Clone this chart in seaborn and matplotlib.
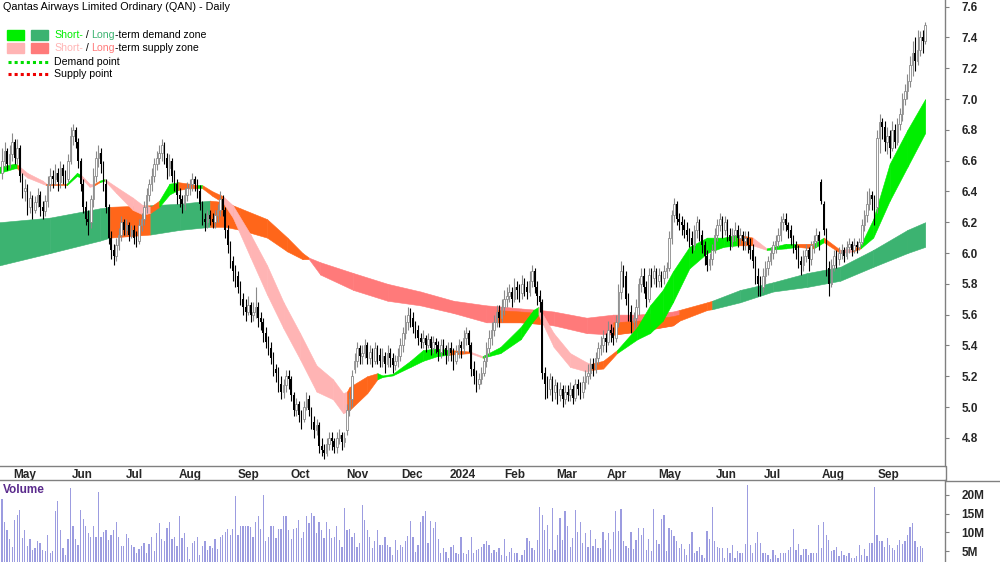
import numpy as np
import pandas as pd
import matplotlib
matplotlib.use("Agg")
import matplotlib.pyplot as plt
import seaborn as sns
from matplotlib.transforms import IdentityTransform, ScaledTranslation
from matplotlib.patches import Rectangle
from matplotlib.lines import Line2D

# daily prices in cents (Apr 2023 - Sep 2024)
closes = [660, 666, 658, 664, 672, 662, 668, 650, 640, 642,
          630, 636, 628, 633, 638, 630, 627, 634,
          645, 650, 648, 652, 646, 655, 650, 648,
          660, 676, 680, 672,
          660, 645, 630, 622, 620,
          635, 650, 662, 665, 658,
          645, 630, 610, 602, 598, 605,
          612, 620, 615, 618, 612, 615, 610, 608, 618, 622,
          630, 638, 645, 650, 658, 662, 665, 670, 662,
          655, 660, 650, 645, 638, 635,
          632, 638, 642, 645, 648, 645,
          640, 632, 622, 620, 625, 622,
          620, 625, 628, 635, 628, 615,
          605, 595, 588, 585,
          578, 570, 565, 562, 566, 560,
          562, 565, 558, 555, 548,
          542, 538, 532, 525, 522,
          515, 510, 514, 520, 518, 508,
          498, 502, 495, 492, 500, 505, 498, 490, 485, 488,
          475, 472, 470, 476, 480, 478, 474, 480, 482, 477, 480,
          498, 505, 520,
          530, 538, 533, 535, 540, 532, 536, 530, 538, 534,
          530, 533, 528, 535, 532, 527, 530, 533, 540,
          548, 555, 560, 558, 552, 550, 545,
          542, 545, 540, 544, 538, 542, 540, 536, 540, 538, 534, 538,
          535, 530, 536, 540, 538, 545, 548, 540,
          525, 520, 515, 518, 522, 530,
          538, 545, 550, 555, 562, 558, 565, 570,
          572, 575, 570, 578, 576, 574, 580, 578, 575, 582, 588,
          578, 572, 568,
          522,
          515, 512, 518, 510, 514, 508, 512,
          505, 510, 508, 512, 506, 515, 512, 510, 516,
          520, 522, 528, 525, 532, 538,
          540, 545, 542, 550, 548, 545, 555,
          575, 588, 585,
          570, 562, 555, 558,
          565, 580, 585, 578, 570,
          586, 584, 588, 582, 586, 584, 588, 590,
          610, 625, 632, 622,
          620, 618, 615, 612, 610, 605,
          615, 620, 612, 605,
          598, 592, 596, 602,
          612, 618, 622, 615, 620, 612,
          608, 612, 615, 610, 612, 608,
          610, 605, 602, 595, 585, 580,
          578, 585, 590, 595, 600, 605,
          608, 612, 620, 622, 618, 615, 610,
          605, 602, 595, 592, 598, 602, 596,
          605, 608, 612, 608,
          634, 615,
          590, 580, 592, 598, 596,
          600, 602, 598, 604, 606, 602, 605, 604, 607,
          618, 625, 632, 638, 635, 630,
          675,
          685, 682, 672, 676, 668, 680, 672, 684, 690,
          700, 705, 712,
          722, 730, 725, 732,
          740, 738, 748]

opens = [652, 660, 666, 658, 664, 672, 662, 668, 650, 640,
         642, 630, 636, 628, 633, 638, 630, 627,
         634, 645, 650, 648, 652, 646, 655, 650,
         648, 660, 676, 680,
         672, 660, 645, 630, 622,
         620, 635, 650, 662, 665,
         658, 645, 630, 610, 602, 598,
         605, 612, 620, 615, 618, 612, 615, 610, 608, 618,
         622, 630, 638, 645, 650, 658, 662, 665, 670,
         662, 655, 660, 650, 645, 638,
         635, 632, 638, 642, 645, 648,
         645, 640, 632, 622, 620, 625,
         622, 620, 625, 628, 635, 628,
         615, 605, 595, 588,
         585, 578, 570, 565, 562, 566,
         560, 562, 565, 558, 555,
         548, 542, 538, 532, 525,
         522, 515, 510, 514, 520, 518,
         508, 498, 502, 495, 492, 500, 505, 498, 490, 485,
         488, 475, 472, 470, 476, 480, 478, 474, 480, 482, 477,
         485, 498, 505,
         525, 530, 538, 533, 535, 540, 532, 536, 530, 538,
         534, 530, 533, 528, 535, 532, 527, 530, 533,
         540, 548, 555, 560, 558, 552, 550,
         545, 542, 545, 540, 544, 538, 542, 540, 536, 540, 538, 534,
         538, 535, 530, 536, 540, 538, 545, 548,
         540, 525, 520, 515, 518, 522,
         530, 538, 545, 550, 555, 562, 558, 565,
         570, 572, 575, 570, 578, 576, 574, 580, 578, 575, 582,
         588, 578, 572,
         568,
         522, 515, 512, 518, 510, 514, 508,
         512, 505, 510, 508, 512, 506, 515, 512, 510,
         516, 520, 522, 528, 525, 532,
         538, 540, 545, 542, 550, 548, 545,
         555, 575, 588,
         585, 570, 562, 555,
         558, 565, 580, 585, 578,
         570, 586, 584, 588, 582, 586, 584, 588,
         590, 610, 625, 632,
         622, 620, 618, 615, 612, 610,
         605, 615, 620, 612,
         605, 598, 592, 596,
         602, 612, 618, 622, 615, 620,
         612, 608, 612, 615, 610, 612,
         608, 610, 605, 602, 595, 585,
         580, 578, 585, 590, 595, 600,
         605, 608, 612, 620, 622, 618, 615,
         610, 605, 602, 595, 592, 598, 602,
         596, 605, 608, 612,
         646, 632,
         615, 590, 580, 592, 598,
         596, 600, 602, 598, 604, 606, 602, 605, 604,
         607, 618, 625, 632, 638, 635,
         630,
         675, 685, 682, 672, 676, 668, 680, 672, 684,
         690, 700, 705,
         712, 722, 730, 725,
         732, 740, 738]

highs = [668, 672, 668, 670, 678, 674, 674, 670, 652, 648,
         645, 640, 638, 637, 642, 640, 634, 638,
         650, 655, 654, 658, 655, 660, 658, 654,
         664, 682, 684, 682,
         675, 662, 648, 634, 628,
         638, 655, 666, 670, 668,
         660, 648, 632, 614, 606, 610,
         616, 624, 622, 622, 620, 618, 618, 614, 622, 626,
         634, 642, 648, 655, 662, 666, 670, 674, 672,
         665, 664, 662, 654, 648, 642,
         638, 642, 646, 648, 652, 650,
         648, 644, 634, 626, 628, 628,
         626, 628, 632, 640, 638, 630,
         618, 608, 598, 592,
         588, 582, 574, 570, 572, 568,
         568, 578, 568, 562, 558,
         552, 546, 542, 536, 528,
         526, 520, 518, 524, 524, 520,
         510, 506, 504, 498, 504, 510, 508, 500, 494, 492,
         490, 480, 476, 480, 484, 484, 480, 484, 486, 484, 484,
         502, 510, 524,
         535, 542, 540, 540, 544, 542, 540, 538, 542, 540,
         538, 538, 536, 540, 538, 535, 534, 538, 545,
         552, 560, 565, 564, 562, 556, 553,
         548, 550, 547, 548, 546, 546, 545, 543, 544, 544, 540, 542,
         542, 538, 540, 544, 543, 550, 552, 550,
         542, 530, 524, 522, 526, 534,
         542, 550, 555, 560, 566, 566, 570, 576,
         578, 580, 578, 584, 582, 580, 586, 584, 582, 588, 592,
         590, 582, 576,
         570,
         526, 520, 522, 520, 518, 516, 516,
         514, 514, 514, 516, 514, 518, 518, 516, 520,
         524, 528, 532, 532, 536, 542,
         546, 550, 548, 556, 554, 552, 560,
         580, 595, 592,
         588, 574, 566, 562,
         570, 584, 590, 590, 582,
         590, 590, 592, 590, 590, 588, 592, 594,
         614, 628, 636, 634,
         626, 624, 622, 620, 616, 614,
         618, 624, 622, 615,
         608, 602, 600, 606,
         616, 622, 626, 624, 624, 622,
         616, 616, 620, 618, 616, 614,
         614, 614, 610, 606, 598, 590,
         585, 590, 595, 598, 604, 608,
         612, 616, 624, 626, 626, 620, 618,
         612, 608, 605, 598, 602, 606, 604,
         608, 612, 616, 614,
         648, 634,
         616, 595, 596, 602, 602,
         604, 606, 604, 608, 610, 608, 610, 608, 610,
         622, 628, 640, 642, 640, 638,
         680,
         690, 688, 686, 682, 680, 686, 684, 688, 694,
         704, 710, 716,
         728, 738, 740, 745,
         744, 745, 750]

lows = [648, 656, 654, 655, 660, 658, 658, 646, 636, 634,
        625, 626, 622, 626, 630, 624, 622, 624,
        630, 640, 642, 644, 640, 642, 645, 642,
        646, 658, 670, 668,
        655, 640, 626, 618, 612,
        616, 630, 646, 656, 652,
        640, 626, 606, 596, 592, 595,
        602, 608, 612, 612, 608, 610, 606, 604, 606, 614,
        618, 626, 634, 640, 646, 654, 658, 660, 658,
        648, 650, 646, 640, 632, 630,
        626, 628, 634, 638, 640, 640,
        636, 628, 618, 614, 616, 618,
        616, 616, 620, 624, 624, 610,
        600, 590, 582, 578,
        574, 566, 560, 556, 560, 555,
        556, 558, 552, 550, 542,
        538, 534, 528, 520, 516,
        510, 505, 506, 510, 512, 504,
        494, 494, 490, 486, 490, 498, 494, 486, 480, 482,
        470, 468, 466, 468, 472, 472, 470, 470, 476, 472, 474,
        482, 494, 500,
        522, 526, 528, 528, 532, 528, 528, 526, 528, 528,
        526, 526, 522, 526, 526, 522, 524, 526, 530,
        536, 544, 550, 552, 548, 545, 540,
        538, 538, 536, 538, 534, 535, 535, 530, 532, 534, 528, 530,
        530, 524, 528, 532, 532, 535, 540, 536,
        520, 515, 510, 512, 515, 520,
        526, 534, 540, 546, 552, 552, 555, 560,
        565, 568, 565, 568, 570, 568, 570, 572, 570, 572, 578,
        574, 566, 562,
        518,
        505, 506, 508, 504, 505, 502, 504,
        500, 502, 504, 504, 502, 504, 508, 505, 506,
        512, 515, 518, 520, 522, 528,
        534, 536, 536, 540, 542, 540, 542,
        552, 570, 578,
        566, 556, 548, 550,
        552, 560, 575, 574, 565,
        568, 578, 580, 578, 578, 578, 580, 584,
        588, 606, 620, 618,
        615, 612, 610, 608, 604, 600,
        602, 610, 608, 600,
        592, 588, 589, 592,
        600, 608, 614, 610, 612, 608,
        602, 604, 608, 604, 606, 602,
        602, 600, 596, 590, 580, 572,
        572, 575, 580, 586, 592, 596,
        600, 604, 608, 615, 614, 610, 605,
        600, 596, 590, 586, 588, 594, 588,
        592, 600, 604, 602,
        632, 612,
        585, 572, 578, 588, 590,
        592, 596, 594, 596, 600, 598, 600, 600, 602,
        605, 614, 620, 628, 628, 618,
        626,
        665, 674, 666, 664, 662, 666, 668, 670, 680,
        686, 696, 700,
        708, 715, 718, 722,
        728, 730, 736]

# daily volume in millions
vol_a = [18.9, 12.9, 10.7, 8.2, 6.1, 13.4, 14.7, 15.9, 8.5, 10.7,
         6.4, 8.2, 5.4, 5.8, 7.6, 7.1, 5.4, 5.0, 9.4, 4.6,
         5.0, 15.8, 18.3, 10.7, 5.8, 4.0, 8.2, 21.8, 11.8, 8.2,
         6.7, 16.0, 13.5, 11.6, 9.8, 8.9, 11.6, 8.9, 20.7, 8.9,
         10.0, 10.7, 8.0, 9.4, 10.7, 12.9, 8.9, 6.4, 6.4, 9.5,
         8.6, 6.7, 6.2, 4.5, 5.5, 6.4, 7.1, 4.5, 6.9, 8.9,
         5.0, 9.8, 12.5, 8.2, 7.6, 11.1, 12.9, 8.2, 8.9, 6.4,
         14.3, 8.5, 9.8, 6.1, 2.8, 7.1, 7.6, 8.9, 4.0, 6.4,
         7.6, 5.4, 6.4, 5.8, 8.2, 5.5, 8.9, 9.4, 10.0, 10.9,
         9.4, 10.9, 19.8, 9.4, 11.8, 11.8, 11.6, 11.8, 11.4, 8.9,
         12.7, 14.3, 10.9, 20.1, 7.6, 8.9, 11.8, 11.8, 8.5, 10.9,
         10.9, 14.4, 14.4, 10.7, 8.2, 10.9, 11.1, 13.4, 8.5, 10.0,
         14.3, 12.5, 15.2, 14.4, 9.8, 12.7, 10.7, 8.5, 12.9, 10.9,
         8.5, 8.7, 11.6, 8.0, 6.1, 16.5, 10.7, 10.9, 8.9, 9.8,
         6.2, 7.1, 17.4, 13.4, 10.7, 8.9, 5.8, 7.6, 10.7, 6.7,
         6.7, 8.9, 6.7, 6.2, 4.0, 8.0, 5.4]
vol_b = [6.7, 6.1, 7.6, 9.1, 13.1, 8.9, 4.9, 6.7, 12.9, 14.3, 15.6,
         7.1, 13.1, 11.1, 12.9, 8.3, 4.6, 5.8, 4.9, 3.1, 6.1, 6.7,
         4.5, 4.3, 8.7, 4.5, 4.3, 5.3, 8.9, 4.6, 5.3, 5.5, 6.1,
         7.0, 7.8, 6.7, 4.5, 5.2, 4.9, 5.8, 4.0, 8.3, 3.6, 4.9,
         5.8, 4.6, 4.5, 2.7, 3.9, 5.3, 8.6, 7.6, 5.8, 5.3, 8.0,
         16.9, 14.7, 10.7, 12.0, 5.7, 16.5, 5.3, 9.4, 13.8, 8.0, 15.8,
         11.6, 6.0, 8.4, 16.0, 10.0, 12.9, 7.3, 9.8, 6.0, 10.7, 6.4,
         8.3, 5.8]
vol_c = [5.8, 10.0, 8.0, 9.8, 5.5, 10.0, 15.8, 10.5, 16.3, 7.6,
         6.4, 5.8, 10.1, 5.5, 8.0, 11.1, 9.4, 11.1, 5.4, 8.2,
         5.0, 16.3, 8.0, 6.9, 13.5, 14.7, 5.0, 11.1, 10.7, 9.1,
         7.6, 5.8, 6.9, 5.5, 4.0, 6.9, 10.0, 4.5, 5.0, 6.2,
         4.0, 3.1, 10.3, 8.2, 16.9, 7.6, 6.2, 5.8, 5.8, 3.1,
         5.8, 4.6, 6.7, 3.1, 5.0, 4.4, 4.5, 6.9, 22.7, 6.7,
         4.5, 7.3, 10.0, 7.1, 4.4, 4.4, 4.0, 2.8, 5.4, 4.0,
         3.1, 4.4, 4.4, 4.5, 5.4, 6.2, 10.9, 5.4, 6.9, 4.0,
         5.5, 5.5, 4.0, 4.5, 4.6, 4.5, 12.0, 5.8, 12.7, 9.4,
         8.0, 5.0, 5.4, 6.2, 3.6, 5.0, 4.0, 3.6, 4.6, 3.1,
         3.1, 3.6, 6.7, 4.0, 5.5, 3.6, 7.3, 7.3, 22.1, 9.4,
         7.6, 7.6, 6.2, 8.5, 6.7, 5.8, 5.4, 6.7, 8.0, 6.9,
         7.8, 9.4, 11.4, 12.5, 7.6, 6.2, 6.4, 5.9]

# ribbon edges (day index, price)
short_idx = [-1, 5, 6, 7, 10, 16, 17.5, 25.5, 29.5, 31,
             34.5, 36, 38.5, 40.5, 45, 51.5, 55.5, 58.5, 62, 66,
             69.5, 74, 77, 79, 83, 87, 91, 98, 104.5, 111,
             117.5, 124, 130.5, 134.5, 136, 137, 144, 148, 150, 154,
             161, 166, 171.5, 176.5, 184.5, 189.5, 196.5, 204.5, 209.5, 211.5,
             217.5, 224, 230.5, 232, 237, 242.5, 250.5, 255.5, 260.5, 264.5,
             271, 278, 284.5, 290, 296, 301.5, 309, 313.5, 320, 324,
             330.5, 335.5, 338.5, 343.5, 350, 357, 364]
short_top = [6.56, 6.58, 6.575, 6.56, 6.52, 6.47, 6.45, 6.45, 6.52, 6.51,
             6.45, 6.445, 6.47, 6.48, 6.43, 6.36, 6.31, 6.30, 6.34, 6.45,
             6.46, 6.45, 6.44, 6.44, 6.40, 6.37, 6.31, 6.12, 5.92, 5.68,
             5.48, 5.27, 5.18, 5.09, 5.10, 5.13, 5.20, 5.22, 5.205, 5.215,
             5.30, 5.37, 5.38, 5.37, 5.36, 5.33, 5.39, 5.52, 5.63, 5.65,
             5.48, 5.35, 5.29, 5.28, 5.30, 5.37, 5.52, 5.66, 5.76, 5.88,
             6.04, 6.10, 6.10, 6.12, 6.10, 6.03, 6.06, 6.06, 6.06, 6.10,
             6.02, 6.03, 6.05, 6.22, 6.58, 6.80, 7.00]
short_bot = [6.52, 6.55, 6.55, 6.53, 6.49, 6.45, 6.44, 6.44, 6.50, 6.49,
             6.43, 6.435, 6.46, 6.47, 6.39, 6.28, 6.25, 6.26, 6.30, 6.38,
             6.41, 6.42, 6.42, 6.42, 6.37, 6.33, 6.23, 5.97, 5.73, 5.51,
             5.31, 5.10, 5.05, 4.96, 4.97, 4.98, 5.09, 5.18, 5.195, 5.205,
             5.26, 5.30, 5.33, 5.34, 5.35, 5.32, 5.35, 5.44, 5.56, 5.60,
             5.39, 5.26, 5.23, 5.24, 5.25, 5.35, 5.44, 5.48, 5.56, 5.68,
             5.90, 6.00, 6.04, 6.05, 6.05, 6.02, 6.03, 6.04, 6.03, 6.07,
             6.00, 6.01, 6.03, 6.10, 6.34, 6.56, 6.78]
# zone state of each stretch between two edge points (g demand, p supply, o mixed)
short_state = ("ggopppoggp" "pogppppogg" "oogooppppp" "ppppoooggg"
               "gggopggggp" "pppooggggg" "gggopggogo" "pogggg")

long_idx = [-1, 19, 38.5, 42.5, 58.5, 70, 82, 88, 94, 104.5,
            112.5, 118.5, 121, 125.5, 138.5, 152, 165, 178, 191, 195,
            204.5, 212, 217.5, 230.5, 241, 250.5, 264.5, 267, 278, 280,
            291, 304, 317.5, 330.5, 343.5, 357, 364]
long_top = [6.20, 6.23, 6.29, 6.30, 6.31, 6.32, 6.34, 6.33, 6.29, 6.22,
            6.10, 6.00, 5.97, 5.94, 5.87, 5.80, 5.75, 5.69, 5.66, 5.655,
            5.64, 5.63, 5.62, 5.58, 5.60, 5.60, 5.62, 5.63, 5.68, 5.69,
            5.76, 5.81, 5.87, 5.91, 6.02, 6.15, 6.20]
long_bot = [5.92, 6.00, 6.08, 6.10, 6.12, 6.15, 6.17, 6.17, 6.15, 6.10,
            6.01, 5.96, 5.96, 5.86, 5.76, 5.69, 5.66, 5.61, 5.55, 5.55,
            5.55, 5.54, 5.53, 5.48, 5.47, 5.49, 5.53, 5.56, 5.63, 5.635,
            5.68, 5.75, 5.78, 5.82, 5.91, 6.00, 6.04]
long_state = "GGGOGGOOOOOORRRRRRRRRRRRRRROOGGGGGGG"

# orange parts inside the long-term supply zone
mix_a_idx = [195, 204.5, 212]
mix_a_top = [5.63, 5.62, 5.61]
mix_a_bot = [5.55, 5.55, 5.54]
mix_b_idx = [241, 250.5, 264.5, 267]
mix_b_top = [5.55, 5.56, 5.59, 5.60]
mix_b_bot = [5.47, 5.49, 5.53, 5.56]

month_pos = [4.3, 27.6, 48.9, 69.8, 92.7, 113.6, 135.6, 157.3, 176.3,
             198, 218.5, 238.6, 258.7, 281.5, 300.5, 323.3, 345.4]
month_lab = ["May", "Jun", "Jul", "Aug", "Sep", "Oct", "Nov", "Dec", "2024",
             "Feb", "Mar", "Apr", "May", "Jun", "Jul", "Aug", "Sep"]

zone_col = {"g": "#00ee00", "p": "#ffb4b4", "o": "#ff661a", "O": "#ff661a",
            "G": "#3cb371", "R": "#ff7a7a"}

sns.set_style("white")
plt.rcParams["font.family"] = ["Liberation Sans", "DejaVu Sans"]

df = pd.DataFrame({"open": opens, "high": highs, "low": lows, "close": closes}) / 100.0
df["day"] = np.arange(len(df))
vol = pd.DataFrame({"v": vol_a + vol_b + vol_c})
vol["day"] = np.arange(len(vol))

W, H = 1000, 562
fig = plt.figure(figsize=(W / 100, H / 100), dpi=100)
axp = fig.add_axes([0, (H - 466) / H, 945 / W, 466 / H])
axv = fig.add_axes([0, 0, 945 / W, (H - 480) / H])

x_lo, x_hi = -0.8, 371.8


def ribbon(ax, idx, top, bot, state, z):
    for k in range(len(idx) - 1):
        c = zone_col[state[k]]
        ax.fill_between(idx[k:k + 2], top[k:k + 2], bot[k:k + 2],
                        facecolor=c, edgecolor=c, lw=0.4, zorder=z)


ribbon(axp, long_idx, long_top, long_bot, long_state, 1)
for mi, mt, mb in [(mix_a_idx, mix_a_top, mix_a_bot), (mix_b_idx, mix_b_top, mix_b_bot)]:
    axp.fill_between(mi, mt, mb, facecolor=zone_col["o"], edgecolor=zone_col["o"],
                     lw=0.4, zorder=1.5)
ribbon(axp, short_idx, short_top, short_bot, short_state, 2)

# candles
up = df["close"] >= df["open"]
dn = ~up
axp.vlines(df.day[up], df.low[up], df.high[up], color="#8a8a8a", lw=0.8, zorder=3)
axp.vlines(df.day[dn], df.low[dn], df.high[dn], color="black", lw=0.8, zorder=3)
axp.bar(df.day[up], (df.close - df.open)[up].clip(lower=0.004), bottom=df.open[up],
        width=0.62, facecolor="white", edgecolor="#8a8a8a", lw=0.6, zorder=4)
axp.bar(df.day[dn], (df.open - df.close)[dn].clip(lower=0.004), bottom=df.close[dn],
        width=0.62, color="black", lw=0, zorder=4)

axp.set_xlim(x_lo, x_hi)
axp.set_ylim(4.617, 7.643)
axp.yaxis.tick_right()
axp.set_yticks(np.round(np.arange(4.8, 7.61, 0.2), 1))
axp.set_yticklabels([f"{v:.1f}" for v in np.arange(4.8, 7.61, 0.2)])
axp.set_xticks(month_pos)
axp.set_xticklabels(month_lab)
off = ScaledTranslation(2 / 72, 0, fig.dpi_scale_trans)
for lbl in axp.get_xticklabels():
    lbl.set_ha("left")
    lbl.set_transform(lbl.get_transform() + off)
axp.tick_params(axis="x", direction="in", length=3, width=0.8, color="#808080",
                pad=2, labelsize=8.5)
axp.tick_params(axis="y", direction="out", length=3, width=0.8, color="#808080",
                pad=9, labelsize=8.5)
for lbl in axp.get_xticklabels() + axp.get_yticklabels():
    lbl.set_fontweight("bold")
for s in ["top", "left"]:
    axp.spines[s].set_visible(False)
for s in ["bottom", "right"]:
    axp.spines[s].set_color("#808080")
    axp.spines[s].set_linewidth(1)
axp.set_xlabel("")
axp.set_ylabel("")

# volume panel
sns.barplot(data=vol, x="day", y="v", native_scale=True, color="#9c9ce0",
            saturation=1, width=0.5, errorbar=None, linewidth=0, ax=axv)
axv.set_xlim(x_lo, x_hi)
axv.set_ylim(2.1, 24)
axv.yaxis.tick_right()
axv.set_yticks([5, 10, 15, 20])
axv.set_yticklabels(["5M", "10M", "15M", "20M"])
axv.set_xticks([])
axv.tick_params(axis="y", direction="out", length=3, width=0.8, color="#808080",
                pad=9, labelsize=8.5)
for lbl in axv.get_yticklabels():
    lbl.set_fontweight("bold")
for s in ["bottom", "left"]:
    axv.spines[s].set_visible(False)
for s in ["top", "right"]:
    axv.spines[s].set_color("#808080")
    axv.spines[s].set_linewidth(1)
axv.set_xlabel("")
axv.set_ylabel("")
axv.text(3, H - 490, "Volume", transform=IdentityTransform(), color="#5a2a8c",
         fontsize=8.5, fontweight="bold", va="center", ha="left")

px = IdentityTransform()
# frame pieces joining the two panels
fig.lines.append(Line2D([945, 1000], [H - 480.5, H - 480.5], transform=px,
                        color="#808080", lw=1))
fig.lines.append(Line2D([945.5, 945.5], [H - 466, H - 481], transform=px,
                        color="#808080", lw=1))

# title and legend
fig.text(3, H - 7, "Qantas Airways Limited Ordinary (QAN) - Daily", transform=px,
         fontsize=7.8, va="center", ha="left", color="black")
fig.patches.append(Rectangle((7, H - 40), 17, 10, transform=px, color=zone_col["g"]))
fig.patches.append(Rectangle((31, H - 40), 17, 10, transform=px, color=zone_col["G"]))
fig.patches.append(Rectangle((7, H - 53), 17, 10, transform=px, color=zone_col["p"]))
fig.patches.append(Rectangle((31, H - 53), 17, 10, transform=px, color=zone_col["R"]))
fig.lines.append(Line2D([8, 48], [H - 62, H - 62], transform=px, color="#00dd00",
                        lw=2.2, ls=(0, (1, 1))))
fig.lines.append(Line2D([8, 48], [H - 74, H - 74], transform=px, color="#ee0000",
                        lw=2.2, ls=(0, (1, 1))))

rend = fig.canvas.get_renderer()


def pieces(x, y, parts):
    for s, c in parts:
        t = fig.text(x, y, s, transform=px, color=c, fontsize=7.6, va="center", ha="left")
        x = t.get_window_extent(rend).x1


pieces(54, H - 35, [("Short-", zone_col["g"]), (" / ", "black"), ("Long", zone_col["G"]),
                    ("-term demand zone", "black")])
pieces(54, H - 48, [("Short-", zone_col["p"]), (" / ", "black"), ("Long", zone_col["R"]),
                    ("-term supply zone", "black")])
pieces(54, H - 62, [("Demand point", "black")])
pieces(54, H - 74, [("Supply point", "black")])

fig.savefig("out.png", dpi=100)
